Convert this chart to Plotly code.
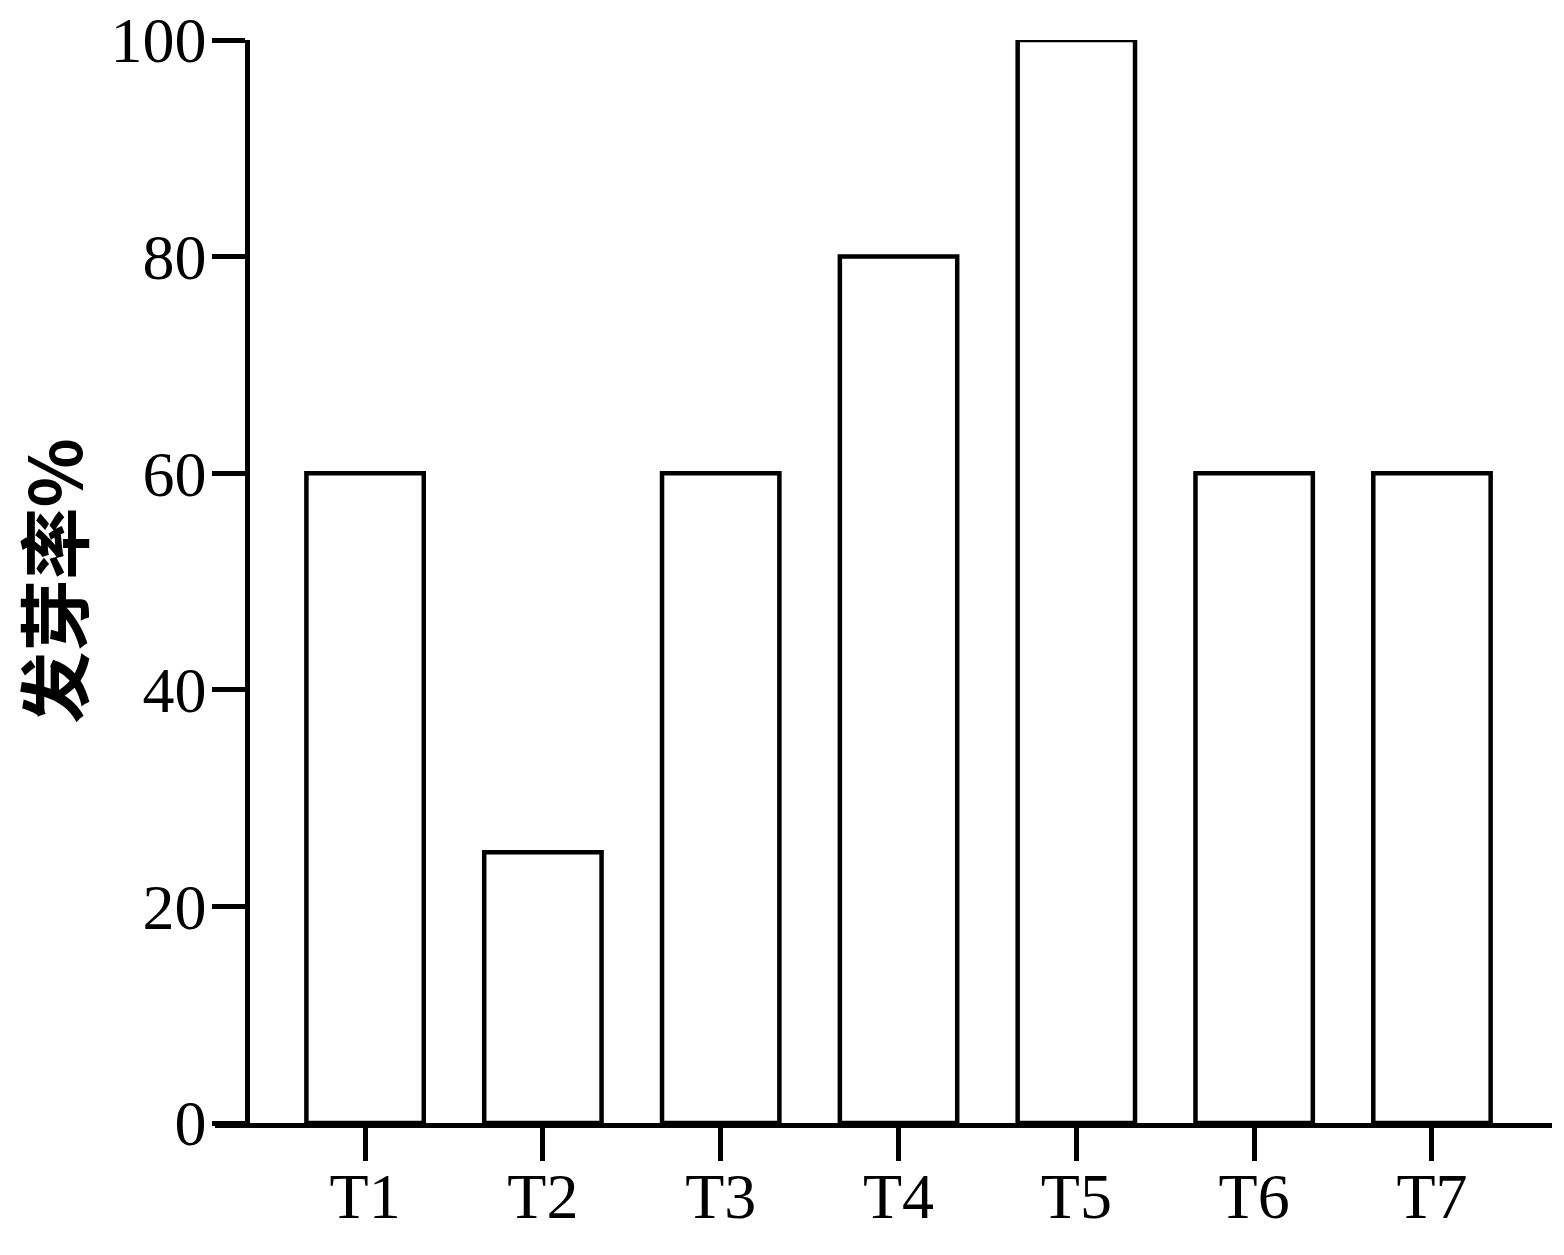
import plotly.graph_objects as go

categories = ["T1", "T2", "T3", "T4", "T5", "T6", "T7"]
rates = [60, 25, 60, 80, 100, 60, 60]
y_ticks = [0, 20, 40, 60, 80, 100]
y_title = "发芽率%"

fig = go.Figure()
fig.add_trace(go.Bar(
    x=categories, y=rates, width=0.66,
    marker=dict(color="white", line=dict(color="black", width=4.5)),
    cliponaxis=False, showlegend=False,
))

# page body adds an 8px offset, margins compensate for it
fig.update_layout(
    width=1564, height=1255,
    margin=dict(l=207, r=20, t=32, b=140),
    plot_bgcolor="white", paper_bgcolor="white",
    font=dict(family="Liberation Serif, Times New Roman, serif", size=64, color="black"),
    xaxis=dict(
        domain=[0, 1], range=[-0.844, 6.675], automargin=False,
        showline=True, linecolor="black", linewidth=4.5,
        ticks="outside", ticklen=33, tickwidth=4.5, tickcolor="black",
        ticklabelstandoff=-20, ticklabeloverflow="allow",
        showgrid=False, zeroline=False,
    ),
    yaxis=dict(
        anchor="free", position=32 / 1337, range=[0, 100], automargin=False,
        tickvals=y_ticks,
        showline=True, linecolor="black", linewidth=4.5,
        ticks="outside", ticklen=33, tickwidth=4.5, tickcolor="black",
        ticklabelstandoff=-7, ticklabeloverflow="allow",
        showgrid=False, zeroline=False,
    ),
    annotations=[dict(
        text="<b>" + y_title + "</b>", textangle=-90,
        xref="paper", yref="paper", x=(42 - 207) / 1337, y=0.5,
        xanchor="center", yanchor="middle", showarrow=False,
        font=dict(family="Noto Sans CJK SC, Liberation Serif", size=72, color="black"),
    )],
)

fig.write_html("out.html")
